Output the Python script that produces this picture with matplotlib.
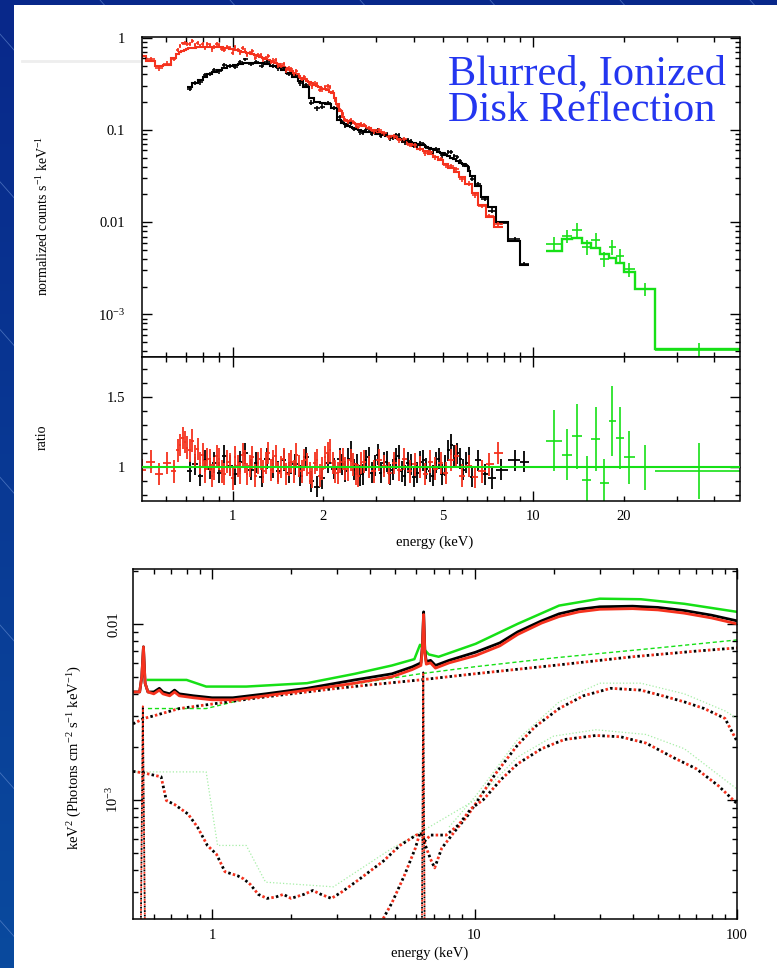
import numpy as np
import matplotlib
matplotlib.use("Agg")
import matplotlib.pyplot as plt
from matplotlib.ticker import FixedLocator, FuncFormatter, NullFormatter
from matplotlib.patches import Rectangle

plt.rcParams['font.family'] = 'Liberation Serif'
plt.rcParams['mathtext.fontset'] = 'custom'
plt.rcParams['mathtext.rm'] = 'Liberation Serif'
plt.rcParams['mathtext.it'] = 'Liberation Serif:italic'
plt.rcParams['mathtext.default'] = 'regular'

W, H = 777, 968
RED = '#f5321e'
GREEN = '#16e016'
PALE_GREEN = '#a6eea6'
BLUE_TXT = '#2436f0'

# ---------------- folded spectra (counts s^-1 keV^-1) + ratios ----------------
red_e = [0.50, 0.535, 0.57, 0.605, 0.64, 0.657, 0.67, 0.682, 0.695, 0.707,
         0.72, 0.735, 0.75, 0.765, 0.78, 0.795, 0.81, 0.825, 0.84, 0.855,
         0.87, 0.885, 0.90, 0.92, 0.94, 0.96, 0.98, 1.00, 1.02, 1.04,
         1.06, 1.08, 1.10, 1.12, 1.14, 1.165, 1.19, 1.215, 1.24, 1.265,
         1.29, 1.315, 1.34, 1.365, 1.39, 1.42, 1.45, 1.48, 1.51, 1.54,
         1.57, 1.60, 1.63, 1.665, 1.70, 1.735, 1.77, 1.805, 1.84, 1.875,
         1.91, 1.95, 1.99, 2.03, 2.07, 2.11, 2.15, 2.19, 2.24, 2.28,
         2.33, 2.37, 2.42, 2.47, 2.52, 2.57, 2.62, 2.67, 2.73, 2.84,
         2.95, 3.07, 3.19, 3.32, 3.45, 3.59, 3.73, 3.88, 4.04, 4.20,
         4.37, 4.55, 4.73, 4.92, 5.12, 5.33, 5.55, 5.80, 6.10, 6.40,
         6.75, 7.15, 7.65]
red_model = [0.64, 0.56, 0.49, 0.51, 0.61, 0.66, 0.70, 0.72, 0.74, 0.755,
             0.77, 0.775, 0.78, 0.785, 0.79, 0.795, 0.80, 0.80, 0.80, 0.80,
             0.80, 0.795, 0.79, 0.785, 0.78, 0.77, 0.76, 0.75, 0.74, 0.73,
             0.72, 0.71, 0.70, 0.69, 0.68, 0.665, 0.65, 0.635, 0.62, 0.605,
             0.59, 0.575, 0.56, 0.545, 0.53, 0.515, 0.50, 0.485, 0.47, 0.455,
             0.44, 0.42, 0.40, 0.385, 0.37, 0.355, 0.34, 0.33, 0.32, 0.31,
             0.30, 0.29, 0.28, 0.275, 0.27, 0.26, 0.25, 0.22, 0.19, 0.16,
             0.14, 0.13, 0.125, 0.122, 0.12, 0.117, 0.115, 0.112, 0.11, 0.105,
             0.10, 0.095, 0.091, 0.087, 0.083, 0.079, 0.075, 0.071, 0.067, 0.063,
             0.059, 0.055, 0.051, 0.047, 0.043, 0.039, 0.035, 0.031, 0.026, 0.021,
             0.0155, 0.0115, 0.0088]
red_ratio = [0.98, 1.04, 0.95, 1.03, 0.97, 1.12, 1.16, 1.21, 1.18, 1.14,
             1.12, 1.19, 1.08, 1.13, 1.03, 1.09, 0.97, 1.06, 1.05, 0.94,
             0.99, 1.08, 1.06, 0.97, 0.95, 1.04, 1.02, 0.92, 1.07, 1.01,
             0.96, 1.09, 1.04, 0.95, 1.01, 1.07, 0.94, 1.03, 1.06, 0.97,
             1.03, 1.10, 0.98, 1.04, 1.08, 0.96, 1.00, 1.06, 0.95, 1.02,
             1.04, 0.97, 1.09, 1.01, 0.97, 1.05, 1.02, 0.96, 0.93, 1.03,
             1.05, 0.94, 0.99, 1.07, 1.10, 1.12, 1.03, 0.97, 0.96, 1.04,
             1.06, 0.99, 0.98, 1.05, 1.02, 0.95, 0.94, 1.03, 1.04, 1.00,
             0.97, 1.05, 1.01, 0.96, 1.03, 0.98, 1.06, 0.97, 1.02, 1.00,
             0.95, 1.04, 0.99, 1.03, 0.96, 1.05, 1.08, 0.94, 1.01, 0.93,
             0.97, 1.02, 1.10]
red_err = 0.08

blk_e = [0.72, 0.75, 0.78, 0.81, 0.84, 0.87, 0.90, 0.94, 0.98, 1.02,
         1.06, 1.10, 1.15, 1.20, 1.25, 1.30, 1.36, 1.42, 1.48, 1.54,
         1.61, 1.68, 1.75, 1.83, 1.91, 1.99, 2.08, 2.17, 2.27, 2.32,
         2.37, 2.42, 2.48, 2.53, 2.59, 2.65, 2.71, 2.77, 2.84, 2.90,
         2.97, 3.04, 3.11, 3.18, 3.26, 3.33, 3.41, 3.49, 3.57, 3.65,
         3.74, 3.83, 3.92, 4.01, 4.11, 4.21, 4.31, 4.41, 4.52, 4.63,
         4.74, 4.85, 4.97, 5.09, 5.21, 5.33, 5.46, 5.59, 5.72, 5.85,
         5.98, 6.11, 6.25, 6.55, 6.90, 7.30, 7.80, 8.70, 9.35]
blk_model = [0.29, 0.32, 0.35, 0.38, 0.41, 0.43, 0.45, 0.47, 0.49, 0.51,
             0.52, 0.53, 0.535, 0.535, 0.53, 0.52, 0.50, 0.48, 0.45, 0.42,
             0.38, 0.34, 0.29, 0.22, 0.20, 0.195, 0.19, 0.175, 0.13, 0.12,
             0.115, 0.111, 0.108, 0.105, 0.103, 0.100, 0.098, 0.096, 0.095, 0.094,
             0.093, 0.0915, 0.090, 0.0885, 0.087, 0.0855, 0.084, 0.0825, 0.081, 0.0795,
             0.078, 0.0765, 0.075, 0.073, 0.071, 0.0695, 0.068, 0.066, 0.064, 0.062,
             0.060, 0.058, 0.056, 0.054, 0.052, 0.050, 0.048, 0.046, 0.044, 0.043,
             0.041, 0.036, 0.032, 0.025, 0.019, 0.0145, 0.0100, 0.0062, 0.0034]
blk_ratio = [0.97, 1.02, 0.94, 1.05, 0.99, 1.03, 0.96, 1.08, 1.01, 0.95,
             1.04, 1.10, 0.98, 1.03, 0.93, 1.06, 1.00, 0.97, 1.05, 0.96,
             1.02, 0.94, 1.07, 0.90, 0.86, 0.92, 1.03, 0.99, 1.06, 1.02,
             0.97, 1.06, 1.11, 0.98, 1.02, 0.94, 0.95, 1.05, 1.07, 0.96,
             1.01, 1.09, 0.96, 1.03, 1.04, 0.95, 0.98, 1.06, 1.08, 0.97,
             0.94, 1.03, 1.02, 0.93, 0.96, 1.04, 1.05, 0.99, 0.97, 0.94,
             1.03, 1.06, 0.95, 1.01, 1.12, 1.16, 1.08, 1.10, 1.06, 0.98,
             1.03, 1.07, 0.93, 1.05, 0.95, 0.92, 0.98, 1.05, 1.04]
blk_err = 0.075

grn_edges = [11.0, 12.5, 13.5, 14.5, 15.6, 16.7, 17.8, 18.8, 20.0, 21.8, 25.4, 50.0]
grn_model = [0.0049, 0.0065, 0.0068, 0.0059, 0.0053, 0.0045, 0.0041, 0.0036, 0.0029, 0.0019, 0.00042]
grn_ratio = [1.19, 1.09, 1.22, 0.91, 1.20, 0.89, 1.33, 1.21, 1.07, 1.00, 0.97]
grn_err = [0.22, 0.18, 0.23, 0.17, 0.23, 0.17, 0.25, 0.22, 0.19, 0.16, 0.20]

# ---------------- unfolded model, keV^2 (Photons cm^-2 s^-1 keV^-1) ----------------
tot_e = [0.50, 0.53, 0.540, 0.548, 0.556, 0.57, 0.60, 0.63, 0.65, 0.69,
         0.72, 0.75, 0.85, 1.0, 1.2, 1.6, 2.3, 3.5, 4.85, 5.8,
         6.25, 6.33, 6.40, 6.47, 6.55, 6.8, 7.1, 8.0, 10.1, 12.5,
         14.6, 18, 21, 25, 30, 40, 50, 63, 80, 100]
tot_blk = [0.0041, 0.0041, 0.0050, 0.0074, 0.0046, 0.0041, 0.0041, 0.0043, 0.0041, 0.0040,
           0.0042, 0.0040, 0.0039, 0.0038, 0.0038, 0.0040, 0.0043, 0.0048, 0.0052, 0.0057,
           0.0060, 0.0075, 0.0117, 0.0070, 0.0061, 0.0062, 0.0058, 0.0062, 0.0069, 0.0078,
           0.0090, 0.0104, 0.0114, 0.0121, 0.0125, 0.0126, 0.0124, 0.0119, 0.0112, 0.0104]
tot_red = [0.0041, 0.0041, 0.0050, 0.0074, 0.0046, 0.0041, 0.0040, 0.0042, 0.0040, 0.0039,
           0.0041, 0.0039, 0.0038, 0.0037, 0.0037, 0.0039, 0.0042, 0.0046, 0.0050, 0.0055,
           0.0058, 0.0073, 0.0113, 0.0068, 0.0059, 0.0060, 0.0056, 0.0060, 0.0066, 0.0075,
           0.0087, 0.0101, 0.0110, 0.0117, 0.0121, 0.0122, 0.0120, 0.0115, 0.0108, 0.0100]
tot_grn_e = [0.57, 0.80, 0.95, 1.35, 2.3, 3.5, 4.85, 5.9, 6.2, 6.7,
             7.3, 10.1, 14.6, 21, 30, 43, 63, 100]
tot_grn = [0.0048, 0.0048, 0.0044, 0.0044, 0.0046, 0.0052, 0.0058, 0.0063, 0.0076, 0.0067,
           0.0065, 0.0077, 0.0100, 0.0127, 0.0139, 0.0138, 0.0130, 0.0117]

pl_e = [0.5, 0.55, 0.6, 0.75, 1.0, 1.5, 2.0, 3.0, 4.0, 6.2, 10, 20, 40, 70, 100]
pl_v = [0.0027, 0.0029, 0.0030, 0.0033, 0.0035, 0.0038, 0.0040, 0.0043, 0.0045, 0.0048,
        0.0052, 0.0058, 0.0065, 0.0070, 0.0073]
pl_grn_e = [0.57, 0.95, 1.3, 2.0, 3.0, 6.2, 10, 20, 50, 100]
pl_grn = [0.0033, 0.0033, 0.0037, 0.0041, 0.0044, 0.0052, 0.0057, 0.0064, 0.0073, 0.0081]

refl_hi_e = [4.4, 4.85, 5.4, 5.95, 6.2, 6.35, 6.5, 6.8, 7.05, 7.5,
             8.4, 9.4, 10.1, 12, 14.6, 17, 21, 26, 33, 43,
             52, 63, 75, 90, 100]
refl_hi = [2.0e-4, 2.6e-4, 3.7e-4, 5.3e-4, 6.5e-4, 6.3e-4, 5.5e-4, 4.6e-4, 4.1e-4, 5.3e-4,
           6.6e-4, 8.1e-4, 9.5e-4, 1.4e-3, 2.05e-3, 2.6e-3, 3.3e-3, 3.9e-3, 4.3e-3, 4.2e-3,
           3.9e-3, 3.6e-3, 3.3e-3, 2.9e-3, 2.15e-3]

refl_lo_e = [0.5, 0.55, 0.60, 0.64, 0.67, 0.72, 0.81, 0.88, 0.96, 1.04,
             1.12, 1.25, 1.32, 1.40, 1.50, 1.62, 1.75, 1.87, 2.0, 2.24,
             2.42, 2.6, 2.85, 3.13, 3.61, 4.51, 5.2, 6.0, 6.3, 6.45,
             6.8, 7.8, 8.7, 9.7, 10.8, 12.6, 14.6, 18, 22, 29,
             36, 45, 58, 70, 85, 100]
refl_lo = [1.45e-3, 1.42e-3, 1.38e-3, 1.35e-3, 9.9e-4, 9.4e-4, 8.3e-4, 7.0e-4, 5.5e-4, 4.9e-4,
           3.9e-4, 3.7e-4, 3.55e-4, 3.3e-4, 2.9e-4, 2.75e-4, 2.8e-4, 2.9e-4, 2.75e-4, 2.9e-4,
           3.05e-4, 2.9e-4, 2.75e-4, 3.0e-4, 3.5e-4, 4.5e-4, 5.5e-4, 6.3e-4, 6.4e-4, 5.8e-4,
           6.3e-4, 6.3e-4, 7.2e-4, 8.9e-4, 1.0e-3, 1.3e-3, 1.6e-3, 1.95e-3, 2.2e-3, 2.32e-3,
           2.28e-3, 2.1e-3, 1.72e-3, 1.5e-3, 1.2e-3, 9.5e-4]

grn_refl_lo_e = [0.5, 0.95, 1.05, 1.35, 1.6, 2.9, 4.85, 6.4, 10.1, 14.6, 20, 29, 45, 63, 100]
grn_refl_lo = [1.44e-3, 1.44e-3, 5.5e-4, 5.5e-4, 3.4e-4, 3.2e-4, 5.3e-4, 6.7e-4, 1.0e-3, 1.75e-3,
               2.3e-3, 2.5e-3, 2.35e-3, 1.95e-3, 1.15e-3]
grn_refl_hi_e = [8.0, 10.1, 14.6, 21, 30, 43, 63, 90, 100]
grn_refl_hi = [7.0e-4, 1.05e-3, 2.2e-3, 3.6e-3, 4.6e-3, 4.6e-3, 4.0e-3, 3.2e-3, 2.9e-3]

oline_e = [0.535, 0.545, 0.556]
oline_v = [1.5e-4, 3.4e-3, 1.5e-4]
feline_e = [6.30, 6.38, 6.46]
feline_v = [1.5e-4, 5.3e-3, 1.5e-4]


def px_axes(fig, x0, y0, x1, y1):
    return fig.add_axes([x0 / W, 1 - y1 / H, (x1 - x0) / W, (y1 - y0) / H])


def bin_edges(e):
    e = np.asarray(e, dtype=float)
    mid = np.sqrt(e[:-1] * e[1:])
    return np.concatenate([[e[0] ** 2 / mid[0]], mid, [e[-1] ** 2 / mid[-1]]])


def style_axes(ax):
    ax.tick_params(which='both', direction='in', top=True, right=True,
                   width=1.0, labelsize=10.5, color='black')
    ax.tick_params(which='major', length=7)
    ax.tick_params(which='minor', length=3.5)
    for s in ax.spines.values():
        s.set_linewidth(1.1)


def energy_ticks(ax, labelled=True):
    ax.xaxis.set_major_locator(FixedLocator([1, 10]))
    ax.xaxis.set_minor_locator(FixedLocator([0.6, 0.7, 0.8, 0.9] + list(range(2, 10)) + [20, 30, 40]))
    ax.xaxis.set_major_formatter(FuncFormatter(lambda v, p: f'{v:g}'))
    ax.xaxis.set_minor_formatter(FuncFormatter(lambda v, p: f'{v:g}' if round(v) in (2, 5, 20) and v >= 2 else ''))
    ax.tick_params(axis='x', which='both', pad=7, labelbottom=labelled)


fig = plt.figure(figsize=(W / 100, H / 100), dpi=100)

# slide background
bg = fig.add_axes([0, 0, 1, 1])
bg.set_xlim(0, W)
bg.set_ylim(H, 0)
bg.axis('off')
grad = np.linspace(0, 1, 256).reshape(-1, 1)
bg.imshow(grad, extent=[0, W, H, 0], aspect='auto', zorder=0,
          cmap=matplotlib.colors.LinearSegmentedColormap.from_list('slide', ['#08288a', '#0a4a9e']))
for c in range(-1200, 900, 130):
    bg.plot([c, c + 1100], [0, 1250], color='#6d93d6', lw=0.6, alpha=0.6, zorder=1)
bg.add_patch(Rectangle((14, 5), W - 14, H - 5, facecolor='white', edgecolor='none', zorder=3))
bg.plot([22, 140], [61, 61], color='#eeeeee', lw=2, zorder=4)

# ---------------- top: folded spectra ----------------
ax1 = px_axes(fig, 142, 37, 739.5, 356.5)
ax1.set_xscale('log')
ax1.set_yscale('log')
for e, m, r, err, col in [(blk_e, blk_model, blk_ratio, blk_err, 'black'),
                          (red_e, red_model, red_ratio, red_err, RED)]:
    e = np.array(e)
    m = np.array(m)
    r = np.array(r)
    edges = bin_edges(e)
    ax1.errorbar(e, m * r, xerr=[e - edges[:-1], edges[1:] - e], yerr=m * err * 0.7,
                 fmt='none', ecolor=col, elinewidth=1.2)
    ax1.stairs(m, edges, color=col, lw=1.5, baseline=None)

g_edges = np.array(grn_edges)
g_e = np.sqrt(g_edges[:-1] * g_edges[1:])
g_m = np.array(grn_model)
ax1.errorbar(g_e, g_m * np.array(grn_ratio), xerr=[g_e - g_edges[:-1], g_edges[1:] - g_e],
             yerr=g_m * np.array(grn_err), fmt='none', ecolor=GREEN, elinewidth=1.2)
ax1.stairs(g_m, g_edges, color=GREEN, lw=1.7, baseline=None)

ax1.set_xlim(0.5, 48.5)
ax1.set_ylim(3.5e-4, 1.02)
style_axes(ax1)
energy_ticks(ax1, labelled=False)
ax1.yaxis.set_major_locator(FixedLocator([1e-3, 1e-2, 0.1, 1]))
ax1.yaxis.set_minor_locator(FixedLocator([k * 10.0 ** d for d in (-4, -3, -2, -1) for k in range(2, 10)]))
ax1.yaxis.set_major_formatter(FuncFormatter(
    lambda v, p: {1: '1', 0.1: '0.1', 0.01: '0.01'}.get(round(v, 6), r'$10^{-3}$')))
ax1.yaxis.set_minor_formatter(NullFormatter())
ax1.tick_params(axis='y', which='both', pad=12)

fig.text(448 / W, 1 - 84 / H, 'Blurred, Ionized', color=BLUE_TXT, fontsize=30.5,
         ha='left', va='baseline')
fig.text(448 / W, 1 - 121 / H, 'Disk Reflection', color=BLUE_TXT, fontsize=30.5,
         ha='left', va='baseline')
fig.text(43 / W, 1 - 216 / H, r'normalized counts s$^{-1}$ keV$^{-1}$', rotation=90,
         ha='center', va='center', fontsize=10)

# ---------------- ratio ----------------
ax2 = px_axes(fig, 142, 356.5, 739.5, 500.5)
ax2.set_xscale('log')
for e, r, err, col in [(blk_e, blk_ratio, blk_err, 'black'), (red_e, red_ratio, red_err, RED)]:
    e = np.array(e)
    edges = bin_edges(e)
    ax2.errorbar(e, r, xerr=[e - edges[:-1], edges[1:] - e], yerr=err,
                 fmt='none', ecolor=col, elinewidth=1.3)
ax2.errorbar(g_e, grn_ratio, xerr=[g_e - g_edges[:-1], g_edges[1:] - g_e], yerr=grn_err,
             fmt='none', ecolor=GREEN, elinewidth=1.2)
ax2.axhline(1, color=GREEN, lw=1.5, zorder=5)
ax2.set_xlim(0.5, 48.5)
ax2.set_ylim(0.762, 1.79)
style_axes(ax2)
energy_ticks(ax2)
ax2.yaxis.set_major_locator(FixedLocator([1, 1.5]))
ax2.yaxis.set_minor_locator(FixedLocator([0.8, 0.9, 1.1, 1.2, 1.3, 1.4, 1.6, 1.7]))
ax2.yaxis.set_major_formatter(FuncFormatter(lambda v, p: f'{v:g}'))
ax2.tick_params(axis='y', which='both', pad=12)
fig.text(42 / W, 1 - 437 / H, 'ratio', rotation=90, ha='center', va='center', fontsize=10)
fig.text(435 / W, 1 - 542 / H, 'energy (keV)', ha='center', va='center', fontsize=10.5)

# ---------------- bottom: unfolded model components ----------------
ax3 = px_axes(fig, 133, 569, 737, 919)
ax3.set_xscale('log')
ax3.set_yscale('log')

dot_k = dict(color='black', lw=2.0, ls=(0, (0.9, 2.5)))
dot_r = dict(color=RED, lw=2.0, ls=(1.7, (0.9, 2.5)))

ax3.plot(grn_refl_lo_e, grn_refl_lo, color=PALE_GREEN, lw=0.9, ls=':')
ax3.plot(grn_refl_hi_e, grn_refl_hi, color=PALE_GREEN, lw=0.9, ls=':')
ax3.plot(pl_grn_e, pl_grn, color=GREEN, lw=1.0, ls=(0, (3, 2)))
for xs, ys in [(pl_e, pl_v), (refl_hi_e, refl_hi), (refl_lo_e, refl_lo)]:
    ax3.plot(xs, ys, **dot_k)
    ax3.plot(xs, ys, **dot_r)
for xs, ys in [(oline_e, oline_v), (feline_e, feline_v)]:
    ax3.plot(xs, ys, color='black', lw=1.3, ls=(0, (1, 1.5)))
    ax3.plot(xs, ys, color=RED, lw=1.3, ls=(1.2, (1, 1.5)))
ax3.plot(tot_grn_e, tot_grn, color=GREEN, lw=1.8)
ax3.plot(tot_e, tot_blk, color='black', lw=2.0)
ax3.plot(tot_e, tot_red, color=RED, lw=2.0)

ax3.set_xlim(0.5, 100)
ax3.set_ylim(2.1e-4, 0.0205)
style_axes(ax3)
ax3.xaxis.set_major_locator(FixedLocator([1, 10, 100]))
ax3.xaxis.set_minor_locator(FixedLocator([0.6, 0.7, 0.8, 0.9] + list(range(2, 10)) + list(range(20, 100, 10))))
ax3.xaxis.set_major_formatter(FuncFormatter(lambda v, p: f'{v:g}'))
ax3.xaxis.set_minor_formatter(NullFormatter())
ax3.tick_params(axis='x', which='both', pad=7)
ax3.yaxis.set_major_locator(FixedLocator([1e-3, 1e-2]))
ax3.yaxis.set_minor_locator(FixedLocator([k * 10.0 ** d for d in (-4, -3, -2) for k in range(2, 10)]))
ax3.yaxis.set_major_formatter(FuncFormatter(lambda v, p: '0.01' if v > 5e-3 else r'$10^{-3}$'))
ax3.yaxis.set_minor_formatter(NullFormatter())
ax3.tick_params(axis='y', which='both', pad=9, labelrotation=90)
for lab in ax3.get_yticklabels():
    lab.set_va('center')
fig.text(75 / W, 1 - 758 / H, r'keV$^2$ (Photons cm$^{-2}$ s$^{-1}$ keV$^{-1}$)', rotation=90,
         ha='center', va='center', fontsize=10.5)
fig.text(430 / W, 1 - 953 / H, 'energy (keV)', ha='center', va='center', fontsize=10.5)

fig.savefig('out.png', dpi=100)
